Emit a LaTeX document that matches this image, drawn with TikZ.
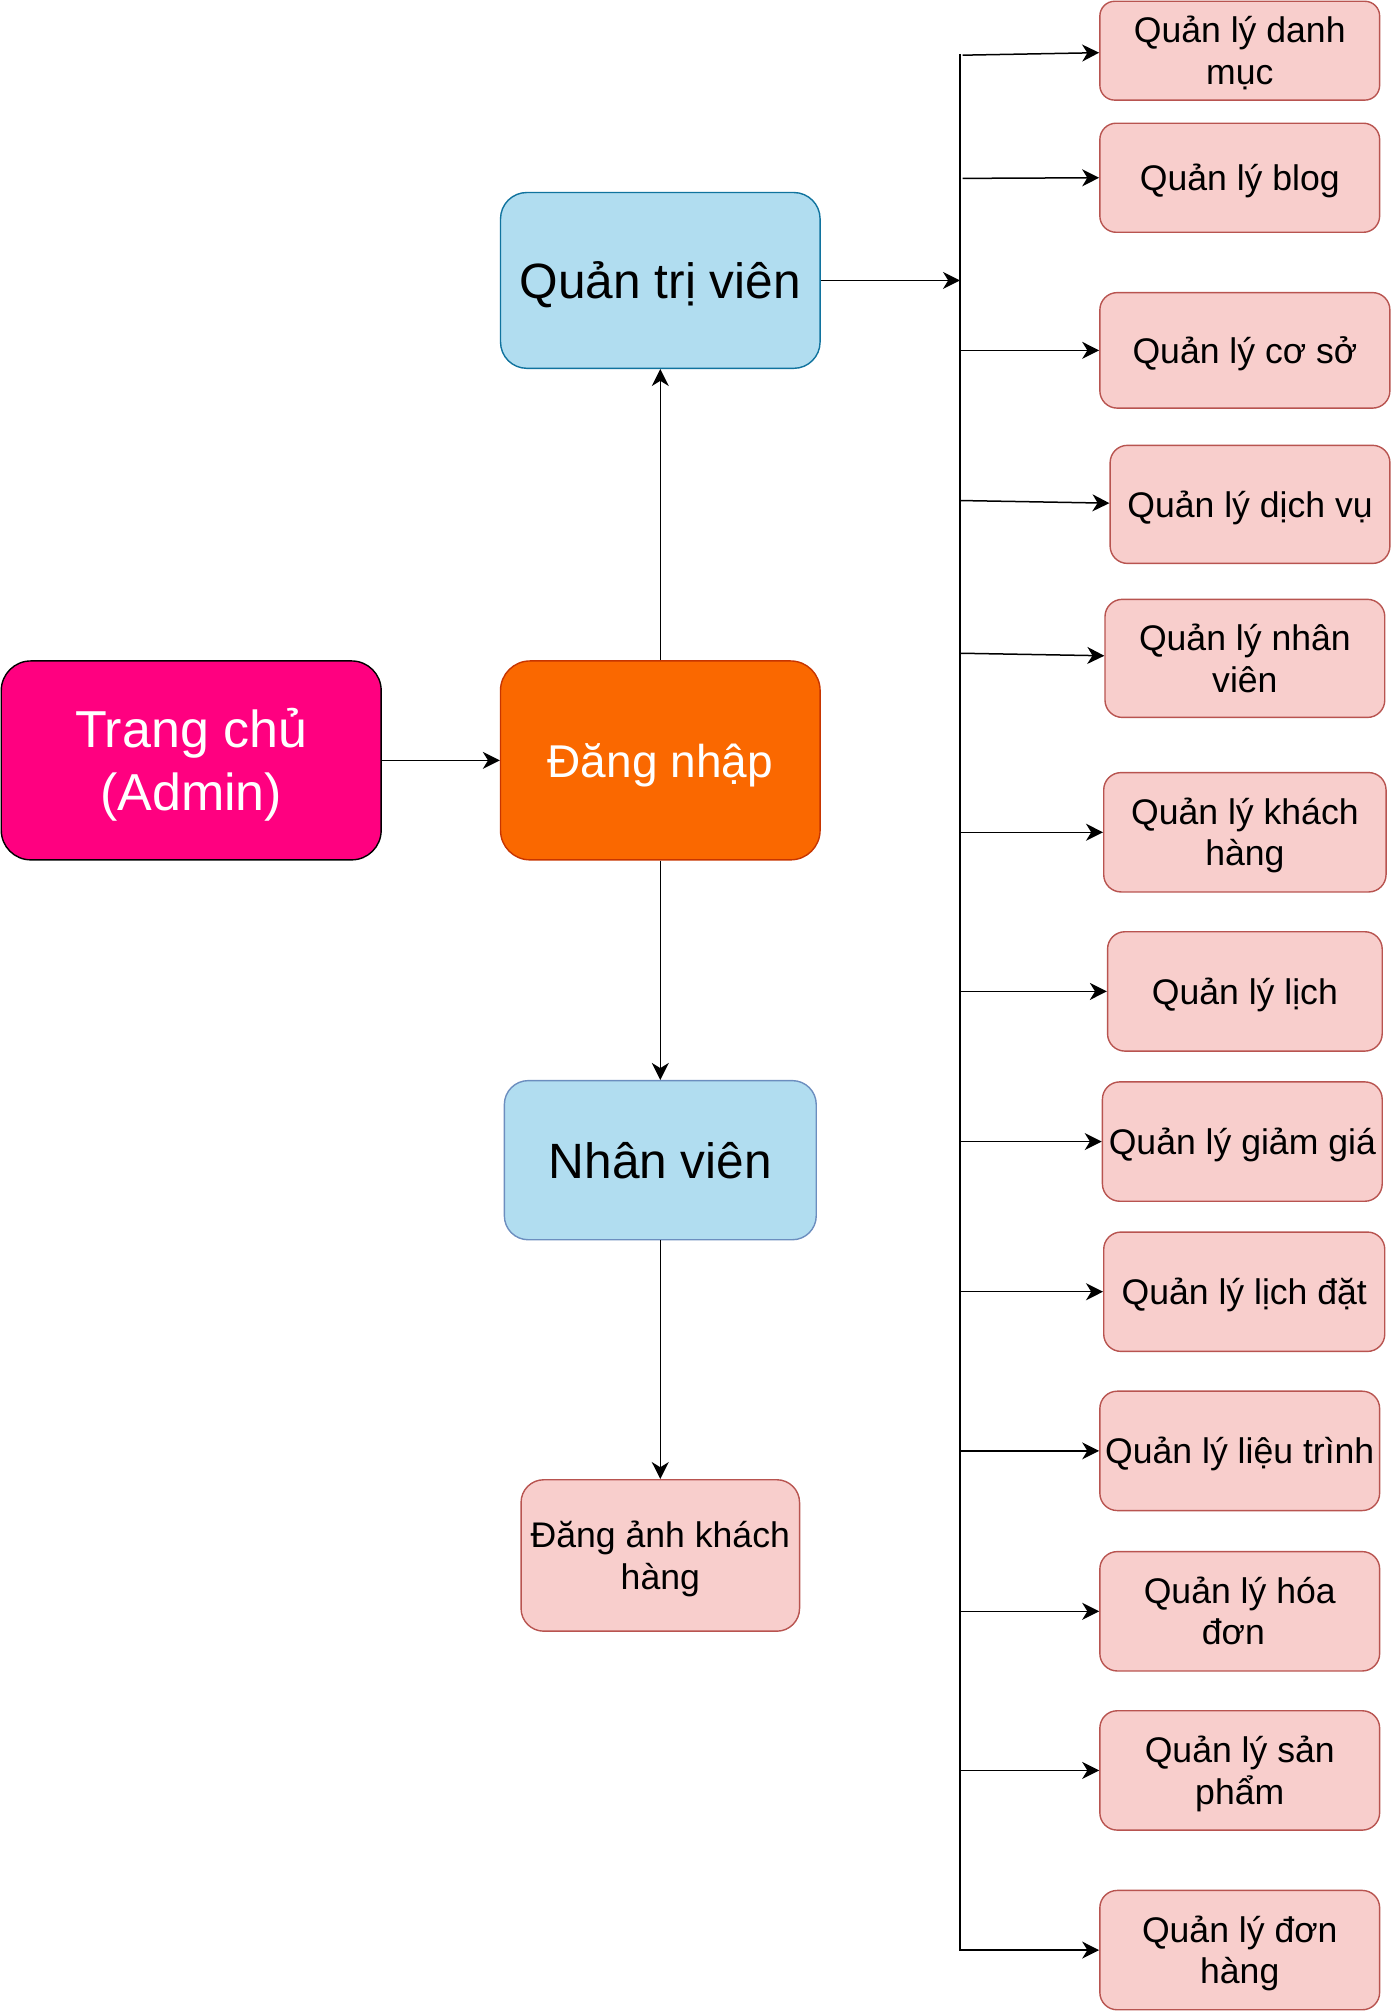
\documentclass[tikz,border=0pt]{standalone}
\usepackage{fontspec}
\setmainfont{Liberation Sans}
\usetikzlibrary{arrows.meta}
\definecolor{pinkF}{HTML}{F8CECC}
\definecolor{pinkD}{HTML}{B85450}
\definecolor{blueF}{HTML}{B1DDF0}
\definecolor{blueD}{HTML}{10739E}
\definecolor{blueD2}{HTML}{6C8EBF}
\definecolor{magF}{HTML}{FF0080}
\definecolor{orF}{HTML}{FA6800}
\definecolor{orD}{HTML}{C73500}
\newlength\pxu
\setlength\pxu{0.64175pt}
\begin{document}
\begin{tikzpicture}[x=0.64175pt,y=-0.64175pt,
  box/.style={draw, line width=0.7pt, align=center, inner sep=0pt},
  pinkbox/.style={box, fill=pinkF, draw=pinkD, font=\fontsize{17.8pt}{20.9pt}\selectfont, rounded corners=13.5*\pxu, minimum width=218*\pxu, minimum height=93*\pxu, text height=12.8pt, text depth=0pt},
  two/.style={text height=33.7pt, text depth=0pt},
  arr/.style={line width=0.75pt, -{Stealth[length=8.5pt,width=8.5pt,inset=2.6pt]}},
  bus/.style={line width=0.75pt}
]
\useasboundingbox (0,0) rectangle (1084.6,1569.3);

% left / middle nodes
\node[box, fill=magF, draw=black, text=white, font=\fontsize{26pt}{31.4pt}\selectfont,
  text height=50.1pt, text depth=0pt,
  minimum width=296*\pxu, minimum height=155*\pxu, rounded corners=23*\pxu] (trang) at (149,592.5) {Trang chủ\\(Admin)};
\node[box, fill=orF, draw=orD, text=white, font=\fontsize{23pt}{28pt}\selectfont,
  text height=16.6pt, text depth=0pt,
  minimum width=249*\pxu, minimum height=155*\pxu, rounded corners=23*\pxu] (dang) at (514.5,592.5) {Đăng nhập};
\node[box, fill=blueF, draw=blueD, font=\fontsize{24.8pt}{30pt}\selectfont,
  text height=17.9pt, text depth=0pt,
  minimum width=249*\pxu, minimum height=137*\pxu, rounded corners=20.5*\pxu] (qtv) at (514.5,218.5) {Quản trị viên};
\node[box, fill=blueF, draw=blueD2, font=\fontsize{24.8pt}{30pt}\selectfont,
  text height=17.9pt, text depth=0pt,
  minimum width=243*\pxu, minimum height=124*\pxu, rounded corners=18.6*\pxu] (nv) at (514.5,904) {Nhân viên};
\node[pinkbox, two, minimum width=217*\pxu, minimum height=118*\pxu, rounded corners=17.7*\pxu] (dakh) at (514.5,1212) {Đăng ảnh khách\\hàng};

% right nodes
\node[pinkbox, two, minimum height=77*\pxu, rounded corners=11.5*\pxu] (r1) at (966,39.5) {Quản lý danh\\mục};
\node[pinkbox, minimum height=85*\pxu, rounded corners=12.7*\pxu] (r2) at (966,138.5) {Quản lý blog};
\node[pinkbox, minimum width=226*\pxu, minimum height=90*\pxu] (r3) at (970,273) {Quản lý cơ sở};
\node[pinkbox, minimum height=92*\pxu] (r4) at (974,393) {Quản lý dịch vụ};
\node[pinkbox, two, minimum height=92*\pxu] (r5) at (970,513) {Quản lý nhân\\viên};
\node[pinkbox, two, minimum width=220*\pxu] (r6) at (970,648.5) {Quản lý khách\\hàng};
\node[pinkbox, minimum width=214*\pxu] (r7) at (970,772.5) {Quản lý lịch};
\node[pinkbox] (r8) at (968,889.5) {Quản lý giảm giá};
\node[pinkbox, minimum width=219*\pxu] (r9) at (969.5,1006.5) {Quản lý lịch đặt};
\node[pinkbox] (r10) at (966,1130.5) {Quản lý liệu trình};
\node[pinkbox, two] (r11) at (966,1255.5) {Quản lý hóa\\đơn\hspace*{6.4pt}};
\node[pinkbox, two] (r12) at (966,1379.5) {Quản lý sản\\phẩm};
\node[pinkbox, two] (r13) at (966,1519.5) {Quản lý đơn\\hàng};

% bus coordinates
\coordinate (btop) at (748,42);
\coordinate (bbot) at (748,1520);
\coordinate (bq) at (748,218.5);
\coordinate (b1) at (750,43);
\coordinate (b2) at (750,139);
\coordinate (b3) at (748,273);
\coordinate (b4) at (748,390);
\coordinate (b5) at (748,509);
\coordinate (b6) at (748,648.5);
\coordinate (b7) at (748,772.5);
\coordinate (b8) at (748,889.5);
\coordinate (b9) at (748,1006.5);
\coordinate (b10) at (748,1130.5);
\coordinate (b11) at (748,1255.5);
\coordinate (b12) at (748,1379.5);
\coordinate (b13) at (748,1519.5);

\draw[bus] (btop) -- (bbot);

% connectors
\draw[arr] (trang.east) -- (dang.west);
\draw[arr] (dang.north) -- (qtv.south);
\draw[arr] (dang.south) -- (nv.north);
\draw[arr] (nv.south) -- (dakh.north);
\draw[arr] (qtv.east) -- (bq);
\draw[arr] (b1) -- ([yshift=-1pt]r1.west);
\draw[arr] (b2) -- (r2.west);
\draw[arr] (b3) -- (r3.west);
\draw[arr] (b4) -- ([yshift=0.6pt]r4.west);
\draw[arr] (b5) -- ([yshift=1.3pt]r5.west);
\draw[arr] (b6) -- (r6.west);
\draw[arr] (b7) -- (r7.west);
\draw[arr] (b8) -- (r8.west);
\draw[arr] (b9) -- (r9.west);
\draw[arr] (b10) -- (r10.west);
\draw[arr] (b11) -- (r11.west);
\draw[arr] (b12) -- (r12.west);
\draw[arr] (b13) -- (r13.west);
\end{tikzpicture}
\end{document}
